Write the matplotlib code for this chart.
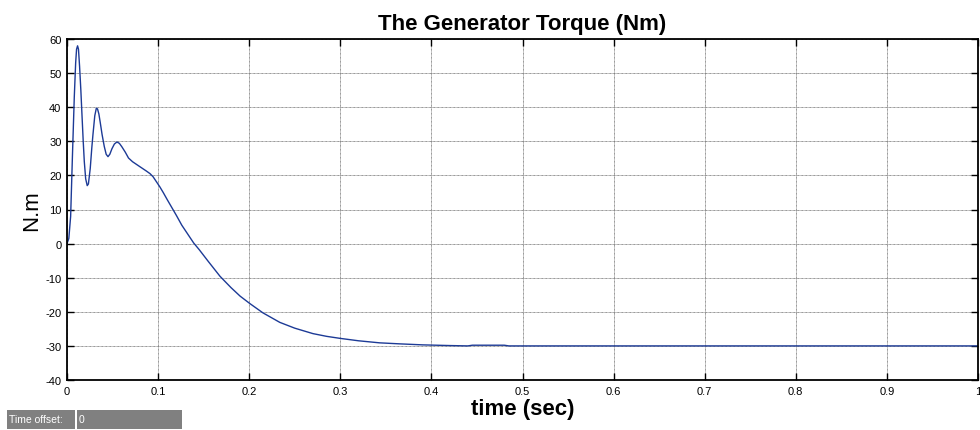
import matplotlib
matplotlib.use("Agg")
import matplotlib.pyplot as plt
from matplotlib.patches import Rectangle

plt.rcParams['font.family'] = ['Liberation Sans', 'DejaVu Sans']
plt.rcParams['axes.unicode_minus'] = False

# generator torque trace (time in s, torque in N.m)
time_s = [0.000, 0.002, 0.004, 0.006, 0.008, 0.0095, 0.0105, 0.0116, 0.0126,
          0.0138, 0.0152, 0.0164, 0.0178, 0.019, 0.0205, 0.0222, 0.0235,
          0.0255, 0.0272, 0.0285, 0.0305, 0.0322, 0.0335, 0.035, 0.0365,
          0.0385, 0.0409, 0.043, 0.045, 0.047, 0.0493, 0.052, 0.0548, 0.0575,
          0.0602, 0.064, 0.0675, 0.072, 0.0803, 0.087, 0.0912, 0.0945, 0.098,
          0.102, 0.1058, 0.110, 0.115, 0.120, 0.126, 0.132, 0.139, 0.1452,
          0.155, 0.168, 0.180, 0.190, 0.2008, 0.215, 0.2336, 0.250, 0.270,
          0.285, 0.300, 0.320, 0.343, 0.365, 0.3906, 0.420, 0.440, 0.445,
          0.480, 0.485, 1.000]
torque = [0.0, 1.5, 8.0, 26.0, 43.0, 53.0, 57.0, 58.0, 57.0,
          52.0, 45.0, 38.0, 30.0, 24.0, 19.0, 17.0, 17.5,
          22.0, 28.0, 32.0, 37.5, 39.7, 39.5, 38.0, 35.5,
          32.0, 28.5, 26.2, 25.5, 26.2, 27.8, 29.2, 29.8, 29.4,
          28.4, 26.8, 25.1, 24.0, 22.5, 21.3, 20.5, 19.6, 18.2,
          16.6, 14.9, 12.9, 10.6, 8.3, 5.4, 3.0, 0.2, -1.8,
          -5.2, -9.6, -12.9, -15.4, -17.6, -20.3, -23.1, -24.8, -26.4,
          -27.2, -27.8, -28.5, -29.1, -29.4, -29.7, -29.9, -30.0, -29.8,
          -29.8, -30.0, -30.0]

x_ticks = [0, 0.1, 0.2, 0.3, 0.4, 0.5, 0.6, 0.7, 0.8, 0.9, 1]
x_labels = ['0', '0.1', '0.2', '0.3', '0.4', '0.5', '0.6', '0.7', '0.8', '0.9', '1']
y_ticks = [-40, -30, -20, -10, 0, 10, 20, 30, 40, 50, 60]

W, H = 980, 431
fig = plt.figure(figsize=(W / 100, H / 100), dpi=100)
ax = fig.add_axes([67 / W, 50 / H, 911 / W, 341 / H])

ax.plot(time_s, torque, color='#1c3a96', linewidth=1.0)

ax.set_xlim(0, 1)
ax.set_ylim(-40, 60)
ax.set_xticks(x_ticks)
ax.set_xticklabels(x_labels)
ax.set_yticks(y_ticks)
ax.tick_params(direction='in', length=5, width=1, labelsize=8,
               top=True, right=True, pad=4)
ax.grid(True, color='0.45', linestyle=(0, (1, 0.6)), linewidth=0.6)
for sp in ax.spines.values():
    sp.set_linewidth(1.3)

ax.set_title('The Generator Torque (Nm)', fontsize=16, fontweight='bold', pad=7)
ax.set_xlabel('time (sec)', fontsize=16, fontweight='bold', labelpad=2)
ax.set_ylabel('N.m', fontsize=16, labelpad=2)

# time offset box below the axes
def px_rect(x0, y0, x1, y1, color):
    fig.patches.append(Rectangle((x0 / W, 1 - y1 / H), (x1 - x0) / W, (y1 - y0) / H,
                                 transform=fig.transFigure, facecolor=color,
                                 edgecolor='none'))

px_rect(7, 411, 75, 430, '#808080')
px_rect(76.5, 411, 182, 430, '#808080')
fig.text(9 / W, 1 - 420.5 / H, 'Time offset:', color='white', fontsize=7.5, va='center')
fig.text(79 / W, 1 - 420.5 / H, '0', color='white', fontsize=7.5, va='center')

fig.savefig('out.png', dpi=100)
